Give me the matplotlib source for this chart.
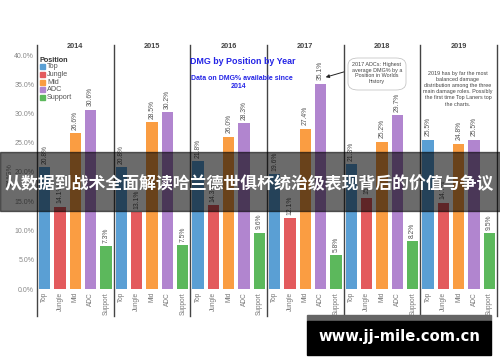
import matplotlib
matplotlib.use('Agg')
import matplotlib.pyplot as plt
from matplotlib.patches import Rectangle, FancyBboxPatch
from matplotlib.lines import Line2D

# data (DMG% share by position and year)
years = ['2014', '2015', '2016', '2017', '2018', '2019']
positions = ['Top', 'Jungle', 'Mid', 'ADC', 'Support']
top = [20.8, 20.8, 21.8, 19.6, 21.3, 25.5]
jungle = [14.1, 13.1, 14.3, 12.1, 15.6, 14.7]
mid = [26.6, 28.5, 26.0, 27.4, 25.2, 24.8]
adc = [30.6, 30.2, 28.3, 35.1, 29.7, 25.5]
support = [7.3, 7.5, 9.6, 5.8, 8.2, 9.5]
colors = ['#5a9fd4', '#e35a5d', '#fa9d42', '#b185cf', '#5cb85c']
yticks = [0, 5, 10, 15, 20, 25, 30, 35, 40]

plt.rcParams['font.family'] = ['Liberation Sans', 'DejaVu Sans']

W, H = 500, 362
fig = plt.figure(figsize=(5, 3.62), dpi=100)


def fx(x):
    return x / W


def fy(y):
    return 1 - y / H


left, right = 37, 497
y0, ytop = 289, 45
pw = (right - left) / 6
scale = (y0 - 55) / 40.0
ymax = (y0 - ytop) / scale

series = [top, jungle, mid, adc, support]
for i, yr in enumerate(years):
    ax = fig.add_axes([fx(left + i * pw), fy(y0), pw / W, (y0 - ytop) / H])
    vals = [s[i] for s in series]
    xs = range(len(positions))
    ax.bar(xs, vals, width=0.72, color=colors)
    for x, v in zip(xs, vals):
        ax.text(x, v + 0.6, f'{v}%', rotation=90, ha='center', va='bottom',
                fontsize=4.9, color='#555555')
    ax.set_xlim(-0.5, 4.5)
    ax.set_ylim(0, ymax)
    ax.set_xticks(list(xs))
    ax.set_xticklabels(positions, rotation=90, fontsize=4.7, color='#777777')
    ax.tick_params(length=0, pad=2)
    if i == 0:
        ax.set_yticks(yticks)
        ax.set_yticklabels([f'{t:.1f}%' for t in yticks], fontsize=5, color='#888888')
    else:
        ax.set_yticks([])
    for s in ax.spines.values():
        s.set_visible(False)
    fig.text(fx(left + i * pw + pw / 2), fy(47), yr, ha='center', va='center',
             fontsize=5.3, fontweight='bold', color='#444444')
    fig.add_artist(Line2D([fx(left + i * pw)] * 2, [fy(ytop), fy(316)],
                          color='#444444', lw=1.0, transform=fig.transFigure))
fig.add_artist(Line2D([fx(right)] * 2, [fy(ytop), fy(316)],
                      color='#444444', lw=1.0, transform=fig.transFigure))

fig.text(fx(10), fy(175), 'DMG%', rotation=90, ha='center', va='center',
         fontsize=5, color='#888888')

# legend
fig.text(fx(39), fy(60), 'Position', fontsize=5.2, fontweight='bold',
         color='#333333', va='center')
for k, (p, c) in enumerate(zip(positions, colors)):
    yy = 66.5 + k * 7.8
    fig.patches.append(Rectangle((fx(40), fy(yy + 2.5)), 5 / W, 5 / H,
                                 color=c, transform=fig.transFigure))
    fig.text(fx(47), fy(yy), p, fontsize=5.2, color='#555555', va='center')

# title text in blue
blue = '#2424e6'
fig.text(fx(243), fy(62), 'DMG by Position by Year', fontsize=6.4,
         fontweight='bold', color=blue, ha='center', va='center')
fig.text(fx(243), fy(70), '-', fontsize=5, fontweight='bold', color=blue,
         ha='center', va='center')
fig.text(fx(242), fy(79), 'Data on DMG% available since', fontsize=5,
         fontweight='bold', color=blue, ha='center', va='center')
fig.text(fx(238), fy(87), '2014', fontsize=5, fontweight='bold', color=blue,
         ha='center', va='center')

# annotations
box = FancyBboxPatch((fx(348), fy(90)), 58 / W, 32 / H,
                     boxstyle='round,pad=0,rounding_size=0.02',
                     facecolor='white', edgecolor='#bbbbbb', lw=0.5,
                     transform=fig.transFigure)
fig.patches.append(box)
fig.text(fx(377), fy(73), '2017 ADCs: Highest\naverage DMG% by a\nPosition in Worlds\nhistory',
         fontsize=3.9, color='#444444', ha='center', va='center', linespacing=1.2)
fig.add_artist(matplotlib.patches.FancyArrowPatch(
    (fx(347), fy(71)), (fx(323), fy(78)), transform=fig.transFigure,
    arrowstyle='-|>', mutation_scale=5, color='#222222', lw=0.7))
fig.text(fx(458), fy(89),
         '2019 has by far the most\nbalanced damage\ndistribution among the three\n'
         'main damage roles. Possibly\nthe first time Top Laners top\nthe charts.',
         fontsize=3.9, color='#444444', ha='center', va='center', linespacing=1.25)

# overlay banner
fig.patches.append(Rectangle((0, fy(211)), 1, 59 / H, color='black', alpha=0.58,
                             transform=fig.transFigure, zorder=10))
fig.text(fx(249), fy(184), '从数据到战术全面解读哈兰德世俱杯统治级表现背后的价值与争议',
         family=['Noto Sans CJK SC', 'DejaVu Sans'], fontsize=12.2,
         fontweight='bold', color='white', ha='center', va='center', zorder=11)

# watermark
fig.patches.append(Rectangle((fx(307), fy(321)), 184 / W, 6 / H, color='#666666',
                             transform=fig.transFigure, zorder=10))
fig.patches.append(Rectangle((fx(307), fy(355)), 184 / W, 34 / H, color='black',
                             transform=fig.transFigure, zorder=10))
fig.text(fx(399), fy(337), 'www.jj-mile.com.cn', family=['DejaVu Sans'],
         fontsize=10.6, fontweight='bold', color='white', ha='center', va='center',
         zorder=11)

fig.savefig('out.png', dpi=100)
